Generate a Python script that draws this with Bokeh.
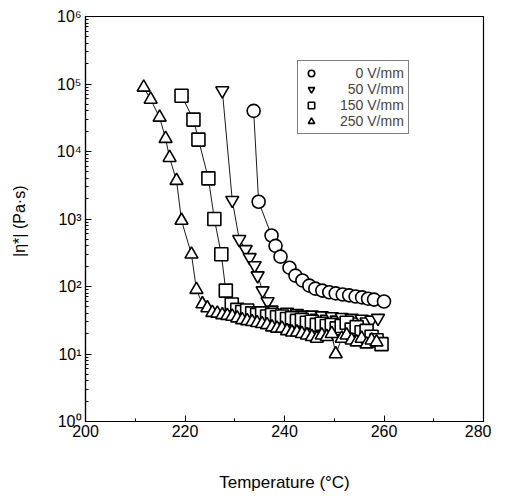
from bokeh.plotting import figure
from bokeh.models import FixedTicker, CustomJSTickFormatter, Legend, LegendItem, Range1d
from bokeh.embed import file_html
from bokeh.resources import INLINE

# ---- data ----
t_0 = [233.8, 234.8, 237.4, 238.2, 239.2, 241.0, 242.2, 243.6, 245.0, 246.2, 247.6,
       249.0, 250.3, 251.7, 253.0, 254.3, 255.6, 256.8, 258.0, 260.0]
eta_0 = [40000, 1800, 570, 400, 277, 190, 145, 123, 103, 93, 87,
         82, 79, 76, 74, 71, 69, 66, 64, 60]

t_50 = [227.5, 229.5, 230.9, 232.2, 233.0, 234.0, 234.6, 235.6, 236.6, 237.4, 238.4,
        239.5, 240.5, 241.5, 242.5, 243.5, 244.5, 245.5, 246.5, 247.5, 248.5, 249.5,
        250.5, 251.5, 252.5, 253.5, 254.5, 255.5, 256.5, 257.5, 258.8]
eta_50 = [80000, 1900, 500, 355, 270, 205, 145, 87, 60, 45, 40,
          38, 42, 36, 40, 38, 35, 38, 34, 37, 33, 36,
          32, 35, 31, 34, 30, 33, 30, 32, 34]

t_150 = [219.3, 221.7, 222.7, 224.7, 225.9, 227.3, 228.2, 229.4, 230.5, 231.5, 232.5,
         233.5, 234.5, 235.5, 236.5, 237.5, 238.5, 239.5, 240.5, 241.5, 242.5, 243.5,
         244.5, 245.5, 246.5, 247.5, 248.5, 249.5, 250.5, 251.5, 252.5, 253.5, 254.5,
         255.5, 256.5, 257.5, 258.5, 259.5]
eta_150 = [67000, 29700, 15000, 4000, 1000, 300, 87, 54, 45, 42, 44,
           40, 38, 40, 36, 38, 35, 36, 33, 34, 31, 32,
           29, 30, 27, 28, 26, 27, 24, 26, 29, 23, 25,
           21, 22, 18, 16, 14]

t_250 = [211.7, 213.1, 214.9, 216.1, 216.9, 218.3, 219.3, 221.3, 222.3, 223.5, 224.5,
         225.5, 226.5, 227.5, 228.5, 229.5, 230.5, 231.5, 232.5, 233.5, 234.5, 235.5,
         236.5, 237.5, 238.5, 239.5, 240.5, 241.5, 242.5, 243.5, 244.5, 245.5, 246.5,
         247.5, 248.5, 249.5, 250.3, 251.5, 252.5, 253.5, 254.5, 255.5, 256.5, 257.5, 258.5]
eta_250 = [89000, 59000, 32000, 15500, 8100, 3700, 950, 300, 90, 55, 48,
           41, 40, 38, 37, 36, 34, 32, 31, 30, 29, 28,
           27, 25, 24, 24, 22, 21, 21, 20, 19, 18, 17,
           19, 18, 20, 10, 17, 19, 16, 15, 17, 14, 16, 15]

labels = ["\u2007\u20070 V/mm", "\u200750 V/mm", "150 V/mm", "250 V/mm"]

x_ticks = [200, 220, 240, 260, 280]
x_minor = [210, 230, 250, 270]
y_ticks = [1, 10, 100, 1000, 10000, 100000, 1000000]
y_minor = [m * d for d in [1, 10, 100, 1000, 10000, 100000] for m in range(2, 10)]

FONT = "Liberation Sans"

p = figure(output_backend="svg", toolbar_location=None,
           y_axis_type="log",
           frame_width=398, frame_height=405,
           min_border_left=85, min_border_right=8,
           min_border_top=16, min_border_bottom=73,
           x_range=Range1d(200, 280), y_range=Range1d(1, 1e6))

p.background_fill_color = "white"
p.border_fill_color = "white"
p.outline_line_color = "black"
p.outline_line_width = 1.2
p.grid.visible = False

p.xaxis.ticker = FixedTicker(ticks=x_ticks, minor_ticks=x_minor)
p.yaxis.ticker = FixedTicker(ticks=y_ticks, minor_ticks=y_minor)
p.yaxis.formatter = CustomJSTickFormatter(code="""
const e = Math.round(Math.log10(tick));
const sup = ['\u2070','\u00b9','\u00b2','\u00b3','\u2074','\u2075','\u2076'];
return '10' + sup[e];
""")

for ax in (p.xaxis, p.yaxis):
    ax.axis_line_color = "black"
    ax.axis_line_width = 1.2
    ax.major_tick_in = 6
    ax.major_tick_out = 0
    ax.minor_tick_in = 3
    ax.minor_tick_out = 0
    ax.major_tick_line_color = "black"
    ax.minor_tick_line_color = "black"
    ax.major_label_text_font = FONT
    ax.major_label_text_font_size = "16px"
    ax.major_label_text_color = "black"
    ax.axis_label_text_font = FONT
    ax.axis_label_text_font_style = "normal"
    ax.axis_label_text_color = "black"

p.xaxis.major_label_standoff = 3
p.yaxis.major_label_standoff = 4
p.xaxis.axis_label = "Temperature (\u00b0C)"
p.xaxis.axis_label_text_font_size = "17px"
p.xaxis.axis_label_standoff = 33
p.yaxis.axis_label = "|\u03b7*|  (Pa\u00b7s)"
p.yaxis.axis_label_text_font_size = "16px"
p.yaxis.axis_label_standoff = 26

MS = 13
LW = 1.6
series = [
    (t_0, eta_0, "circle"),
    (t_50, eta_50, "inverted_triangle"),
    (t_150, eta_150, "square"),
    (t_250, eta_250, "triangle"),
]
items = []
for (t, e, mk), lab in zip(series, labels):
    p.line(t, e, line_color="black", line_width=0.9)
    r = p.scatter(t, e, marker=mk, size=MS, fill_color="white",
                  line_color="black", line_width=LW)
    items.append(LegendItem(label=lab, renderers=[r]))

leg = Legend(items=items, location=(212, 287))
leg.border_line_color = "black"
leg.border_line_width = 1
leg.background_fill_color = "white"
leg.label_text_font = FONT
leg.label_text_font_size = "14px"
leg.label_height = 16
leg.glyph_height = 16
leg.glyph_width = 18
leg.spacing = 0
leg.padding = 4
leg.margin = 0
leg.label_standoff = 20
p.add_layout(leg, "center")

open("out.html", "w").write(file_html(p, INLINE))
